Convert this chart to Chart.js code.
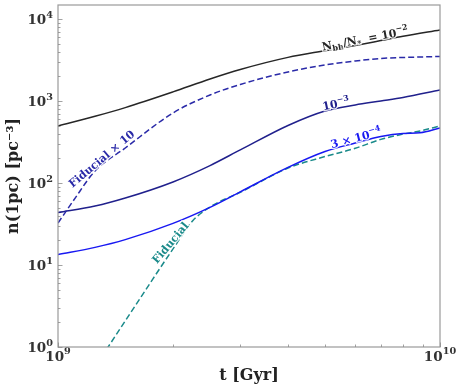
<!DOCTYPE html>
<html>
<head>
<meta charset="utf-8">
<script src="https://cdn.jsdelivr.net/npm/chart.js@4.4.0/dist/chart.umd.min.js"></script>
<style>
  html, body { margin: 0; padding: 0; background: #fff; }
</style>
</head>
<body>
<canvas id="nChart" width="464" height="388"></canvas>
<script>
// ---------------- data (t in yr, n in pc^-3) ----------------
var t_main = [1e9, 1.25e9, 1.5e9, 2e9, 2.5e9, 3e9, 4e9, 5e9, 6e9, 7e9, 8e9, 1e10];

var n_1e2 = [496, 650, 830, 1290, 1855, 2420, 3400, 4100, 4750, 5450, 6150, 7340];
var n_1e3 = [43.7, 52.4, 65.6, 103, 163, 253, 503, 755, 894, 1000, 1104, 1361];

var t_blue = [1e9, 1.25e9, 1.5e9, 2e9, 2.5e9, 3e9, 4e9, 5e9, 6e9, 7e9, 8e9, 8.87e9, 1e10];
var n_3e4 = [13.4, 16.4, 20.4, 32.2, 50.5, 78, 155, 242, 307, 369, 402, 410, 469];

var t_fid10 = [1e9, 1.1e9, 1.25e9, 1.5e9, 2e9, 2.5e9, 3e9, 4e9, 5e9, 6e9, 7e9, 8e9, 1e10];
var n_fid10 = [32.5, 62, 140, 267, 714, 1183, 1589, 2258, 2748, 3075, 3300, 3390, 3490];

var t_fid = [1.3e9, 1.5e9, 1.75e9, 2e9, 2.25e9, 2.5e9, 3e9, 4e9, 5e9, 6e9, 7e9, 8e9, 8.87e9, 1e10];
var n_fid = [0.755, 2.08, 6.2, 15.7, 34.4, 51, 77, 152, 210, 265, 340, 394, 431, 496];

var xTicks = [1e9, 1e10];
var yTicks = [1, 10, 100, 1000, 10000];

// ---------------------------------------------------------------
var serif = '"DejaVu Serif", serif';

function expParts(v) {
  return [['10', 0], [String(Math.round(Math.log10(v))), 1]];
}

function pts(xs, ys) {
  return xs.map(function (x, i) { return {x: x, y: ys[i]}; });
}

function line(label, xs, ys, color, dash) {
  return {
    label: label,
    data: pts(xs, ys),
    borderColor: color,
    borderWidth: 1.5,
    borderDash: dash || [],
    pointRadius: 0,
    fill: false,
    cubicInterpolationMode: 'monotone'
  };
}

// labels sitting on the curves
var curveLabels = [
  {ds: 0, t: 6.4e9, off: -5, size: 11, parts: [['N', 0], ['bh', -1], ['/N', 0], ['*', -1], ['  = 10', 0], ['\u22122', 1]]},
  {ds: 2, t: 5.37e9, off: -5, size: 11, parts: [['10', 0], ['\u22123', 1]]},
  {ds: 3, t: 6.07e9, off: -5, size: 11, parts: [['3 \u00d7 10', 0], ['\u22124', 1]]},
  {ds: 1, t: 1.33e9, off: -6, rot: -40, size: 11, parts: [['Fiducial \u00d7 10', 0]]},
  {ds: 4, t: 2.02e9, off: -6, rot: -50, size: 11, parts: [['Fiducial', 0]]}
];

function curveY(meta, px) {
  var d = meta.data;
  for (var i = 0; i < d.length - 1; i++) {
    if (px >= d[i].x && px <= d[i + 1].x) {
      var f = (px - d[i].x) / (d[i + 1].x - d[i].x);
      return d[i].y + f * (d[i + 1].y - d[i].y);
    }
  }
  return d[d.length - 1].y;
}

function partFont(p, size) {
  return 'bold ' + (p[1] ? size * 0.72 : size).toFixed(1) + 'px ' + serif;
}

function richWidth(ctx, parts, size) {
  var w = 0;
  parts.forEach(function (p) {
    ctx.font = partFont(p, size);
    p.w = ctx.measureText(p[0]).width;
    w += p.w;
  });
  return w;
}

// draws parts starting at x, main baseline at base
function drawParts(ctx, parts, size, x, base, color, halo) {
  parts.forEach(function (p) {
    ctx.font = partFont(p, size);
    var y = base;
    if (p[1] > 0) y = base - size * 0.45;
    if (p[1] < 0) y = base + size * 0.22;
    if (halo) {
      ctx.lineWidth = 2.5;
      ctx.strokeStyle = 'rgba(255,255,255,0.85)';
      ctx.strokeText(p[0], x, y);
    }
    ctx.fillStyle = color;
    ctx.fillText(p[0], x, y);
    x += p.w;
  });
}

var framePlugin = {
  id: 'framePlugin',
  afterDraw: function (chart) {
    var ctx = chart.ctx, a = chart.chartArea;
    var xs = chart.scales.x, ys = chart.scales.y;
    ctx.save();
    ctx.textAlign = 'left';
    ctx.textBaseline = 'alphabetic';

    // curve labels
    curveLabels.forEach(function (lb) {
      var meta = chart.getDatasetMeta(lb.ds);
      var px = xs.getPixelForValue(lb.t);
      var py = curveY(meta, px);
      var ang = lb.rot !== undefined ? lb.rot * Math.PI / 180 :
        Math.atan2(curveY(meta, px + 12) - curveY(meta, px - 12), 24);
      ctx.save();
      ctx.translate(px, py);
      ctx.rotate(ang);
      ctx.translate(0, lb.off);
      var w = richWidth(ctx, lb.parts, lb.size);
      drawParts(ctx, lb.parts, lb.size, -w / 2, lb.size * 0.36, chart.data.datasets[lb.ds].borderColor, true);
      ctx.restore();
    });

    // tick labels with superscripts
    var ts = 13.5;
    yTicks.forEach(function (v) {
      var parts = expParts(v);
      var w = richWidth(ctx, parts, ts);
      drawParts(ctx, parts, ts, a.left - 5 - w, ys.getPixelForValue(v) + 5, '#333', false);
    });
    xTicks.forEach(function (v) {
      var parts = expParts(v);
      var w = richWidth(ctx, parts, ts);
      drawParts(ctx, parts, ts, xs.getPixelForValue(v) - w / 2, a.bottom + 13.5, '#333', false);
    });

    // frame
    ctx.strokeStyle = '#9a9a9a';
    ctx.lineWidth = 1.2;
    ctx.strokeRect(a.left, a.top, a.right - a.left, a.bottom - a.top);

    // inward ticks, major + minor
    ctx.strokeStyle = '#8a8a8a';
    ctx.lineWidth = 0.8;
    ctx.beginPath();
    for (var d = 9; d <= 10; d++) {
      for (var k = 1; k <= 9; k++) {
        var v = k * Math.pow(10, d);
        if (v < xs.min || v > xs.max) continue;
        var p = Math.round(xs.getPixelForValue(v)) + 0.5;
        var len = k === 1 ? 4.5 : 2.5;
        ctx.moveTo(p, a.bottom);
        ctx.lineTo(p, a.bottom - len);
      }
    }
    for (var e = 0; e <= 4; e++) {
      for (var j = 1; j <= 9; j++) {
        var u = j * Math.pow(10, e);
        if (u < ys.min || u > ys.max) continue;
        var q = Math.round(ys.getPixelForValue(u)) + 0.5;
        var l2 = j === 1 ? 4.5 : 2.5;
        ctx.moveTo(a.left, q);
        ctx.lineTo(a.left + l2, q);
      }
    }
    ctx.stroke();
    ctx.restore();
  }
};

var titleFont = {family: serif, size: 16, weight: 'bold'};

new Chart(document.getElementById('nChart').getContext('2d'), {
  type: 'line',
  data: {
    datasets: [
      line('Nbh/N* = 1e-2', t_main, n_1e2, '#262626'),
      line('Fiducial x 10', t_fid10, n_fid10, '#2a2aa8', [6, 3]),
      line('1e-3', t_main, n_1e3, '#20208c'),
      line('3e-4', t_blue, n_3e4, '#1818f2'),
      line('Fiducial', t_fid, n_fid, '#1a8a8a', [6, 3])
    ]
  },
  options: {
    responsive: false,
    animation: false,
    layout: {padding: {top: 5, right: 24, left: 0, bottom: 0}},
    plugins: {legend: {display: false}, tooltip: {enabled: false}},
    scales: {
      x: {
        type: 'logarithmic',
        min: 1e9,
        max: 1e10,
        grid: {display: false, drawTicks: false},
        border: {display: false},
        ticks: {display: false},
        title: {display: true, text: 't [Gyr]', font: titleFont, color: '#222', padding: {top: 0, bottom: 3}},
        afterBuildTicks: function (s) { s.ticks = xTicks.map(function (v) { return {value: v}; }); },
        afterFit: function (s) { s.height = 41; s.paddingLeft = 0; s.paddingRight = 0; }
      },
      y: {
        type: 'logarithmic',
        min: 1,
        max: 14800,
        grid: {display: false, drawTicks: false},
        border: {display: false},
        ticks: {display: false},
        title: {display: true, text: 'n(1pc) [pc\u207b\u00b3]', font: titleFont, color: '#222', padding: {top: 4, bottom: 0}},
        afterBuildTicks: function (s) { s.ticks = yTicks.map(function (v) { return {value: v}; }); },
        afterFit: function (s) { s.width = 58; s.paddingTop = 0; s.paddingBottom = 0; }
      }
    }
  },
  plugins: [framePlugin]
});
</script>
</body>
</html>
